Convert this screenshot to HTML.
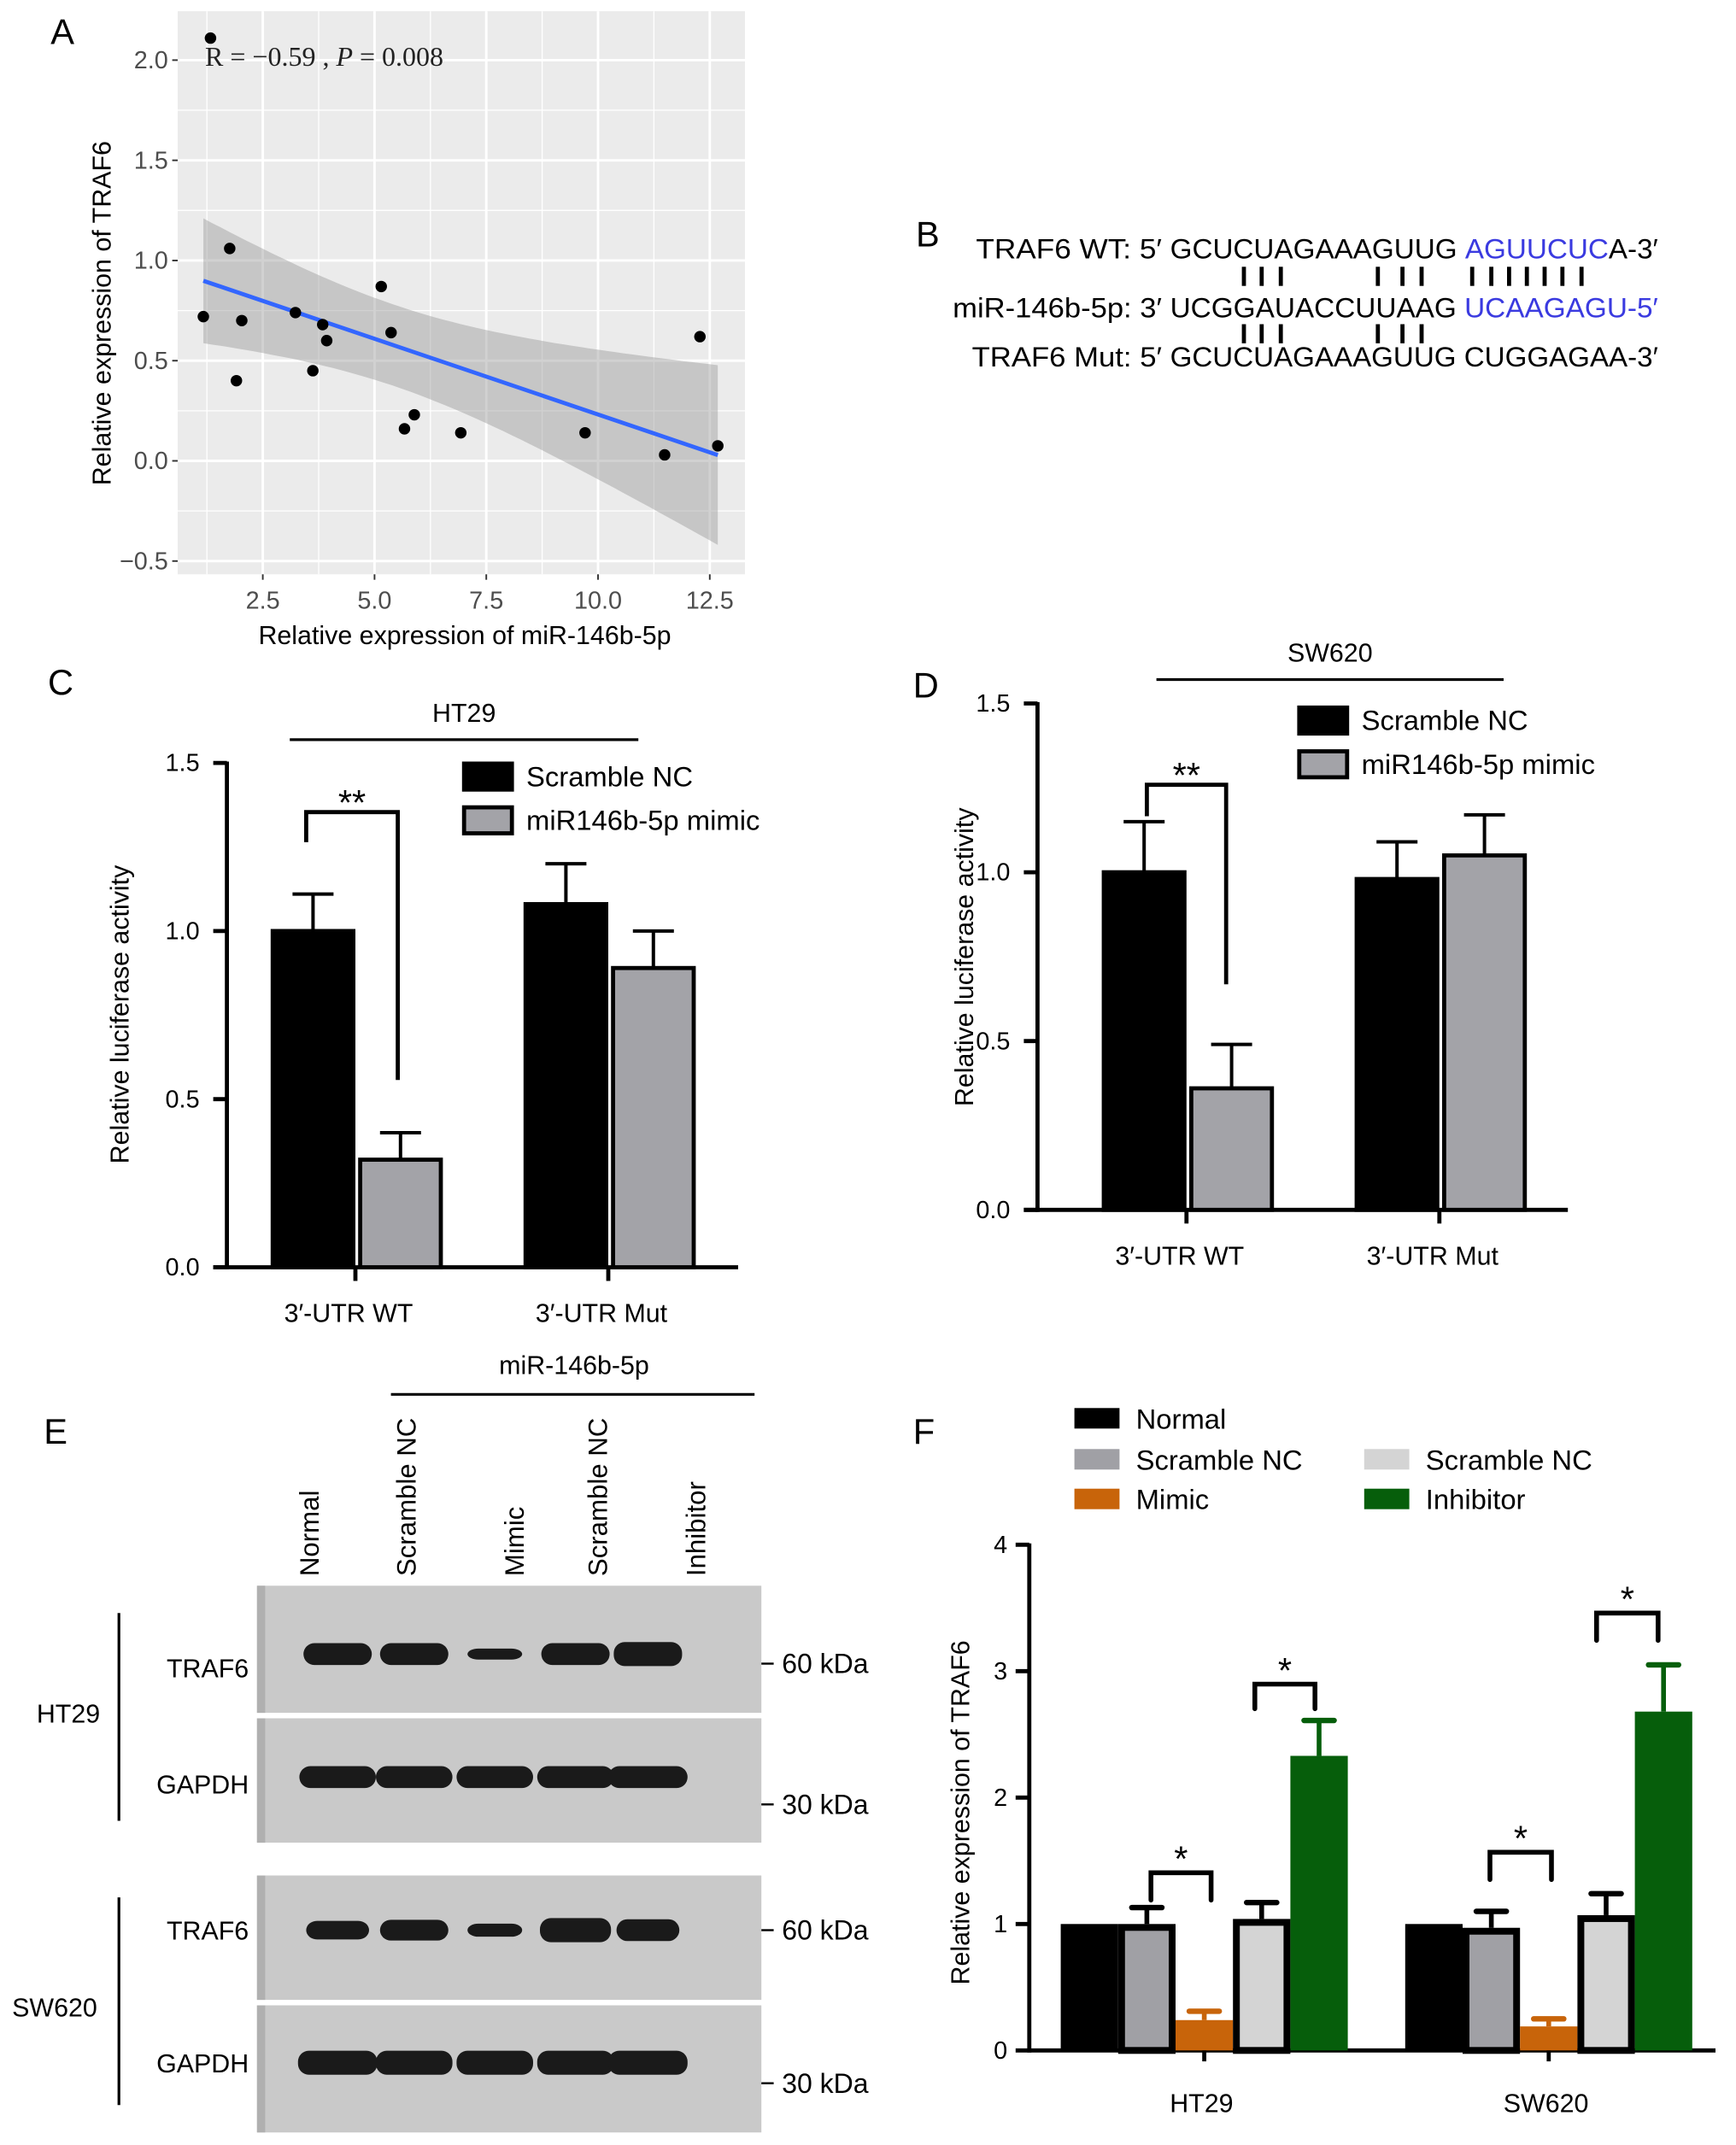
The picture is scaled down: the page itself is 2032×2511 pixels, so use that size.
<!DOCTYPE html>
<html><head><meta charset="utf-8"><style>
html,body{margin:0;padding:0;background:#fff;}
svg{display:block;font-family:"Liberation Sans",Arial,sans-serif;}
</style></head><body>
<svg id="fig" width="2032" height="2511" viewBox="0 0 1270 1569" xmlns="http://www.w3.org/2000/svg">
<g id="pA"></g>
<g id="pB">
 <text x="670" y="180" font-size="26">B</text>
 <g font-size="20">
  <text x="714" y="189" textLength="136" lengthAdjust="spacingAndGlyphs">TRAF6 WT: 5′</text>
  <text x="697" y="232" textLength="153" lengthAdjust="spacingAndGlyphs">miR-146b-5p: 3′</text>
  <text x="711" y="268" textLength="139" lengthAdjust="spacingAndGlyphs">TRAF6 Mut: 5′</text>
  <text x="856" y="189" textLength="357" lengthAdjust="spacingAndGlyphs">GCUCUAGAAAGUUG <tspan fill="#3a3ae0">AGUUCUC</tspan>A-3′</text>
  <text x="856" y="232" textLength="357" lengthAdjust="spacingAndGlyphs">UCGGAUACCUUAAG <tspan fill="#3a3ae0">UCAAGAGU-5′</tspan></text>
  <text x="856" y="268" textLength="357" lengthAdjust="spacingAndGlyphs">GCUCUAGAAAGUUG CUGGAGAA-3′</text>
 </g>
 <g id="pairs" stroke="#000" stroke-width="3"></g>
</g>
<g id="pC"></g>
<g id="pD"></g>
<g id="pE"></g>
<g id="pF"></g>
</svg>
<script>
// Panel A data
const scatterX=[1.33,1.17,1.76,2.03,1.91,3.23,3.62,3.84,3.93,5.15,5.37,5.67,5.89,6.93,9.71,11.49,12.28,12.68];
const scatterY=[2.11,0.72,1.06,0.70,0.40,0.74,0.45,0.68,0.60,0.87,0.64,0.16,0.23,0.14,0.14,0.03,0.62,0.075];
const aXTicks=[2.5,5.0,7.5,10.0,12.5];
const aYTicks=[-0.5,0.0,0.5,1.0,1.5,2.0];
// Panel C data
const cCats=["3′-UTR WT","3′-UTR Mut"];
const cNC=[1.0,1.08], cNCerr=[0.11,0.12];
const cMim=[0.32,0.89], cMimErr=[0.08,0.11];
// Panel D data
const dCats=["3′-UTR WT","3′-UTR Mut"];
const dNC=[1.0,0.98], dNCerr=[0.15,0.11];
const dMim=[0.36,1.05], dMimErr=[0.13,0.12];
const cdTicks=[0.0,0.5,1.0,1.5];
// Panel F data
const fCats=["HT29","SW620"];
const fSeries=["Normal","Scramble NC","Mimic","Scramble NC","Inhibitor"];
const fVals=[[1.0,1.0,0.24,1.04,2.33],[1.0,0.97,0.19,1.07,2.68]];
const fErrs=[[0,0.13,0.07,0.13,0.28],[0,0.13,0.06,0.17,0.37]];
const fTicks=[0,1,2,3,4];

const NS="http://www.w3.org/2000/svg";
function mk(p,tag,at,txt){const e=document.createElementNS(NS,tag);for(const k in at)e.setAttribute(k,at[k]);if(txt!==undefined)e.textContent=txt;p.appendChild(e);return e;}

// ---- B pairs
(function(){const g=document.getElementById('pairs');
[910,923,937,1008,1026,1040,1077,1091,1104,1117,1130,1143,1157].forEach(x=>mk(g,'line',{x1:x,x2:x,y1:195,y2:209}));
[910,923,937,1008,1026,1040].forEach(x=>mk(g,'line',{x1:x,x2:x,y1:237,y2:251}));})();

// ---- A
(function(){const g=document.getElementById('pA');
const L=130,R=545,T=8,B=420;
const sx=v=>110.5+v*32.7, sy=v=>337-v*146.6;
let t=mk(g,'text',{x:37,y:32,'font-size':26},'A');
let bg=mk(g,'rect',{x:L,y:T,width:R-L,height:B-T,fill:'#ebebeb'});
for(let i=0;i<aXTicks.length;i++){const v=aXTicks[i];mk(g,'line',{x1:sx(v),x2:sx(v),y1:T,y2:B,stroke:'#fff','stroke-width':1.8});
 mk(g,'line',{x1:sx(v-1.25),x2:sx(v-1.25),y1:T,y2:B,stroke:'#fff','stroke-width':0.8});}
for(const v of aYTicks){mk(g,'line',{x1:L,x2:R,y1:sy(v),y2:sy(v),stroke:'#fff','stroke-width':1.8});
 mk(g,'line',{x1:L,x2:R,y1:sy(v+0.25),y2:sy(v+0.25),stroke:'#fff','stroke-width':0.8});}
const n=scatterX.length;const mx=scatterX.reduce((a,b)=>a+b)/n,my=scatterY.reduce((a,b)=>a+b)/n;
let sxx=0,sxy=0;for(let i=0;i<n;i++){sxx+=(scatterX[i]-mx)**2;sxy+=(scatterX[i]-mx)*(scatterY[i]-my);}
const b1=sxy/sxx,b0=my-b1*mx;let sse=0;for(let i=0;i<n;i++)sse+=(scatterY[i]-b0-b1*scatterX[i])**2;
const s=Math.sqrt(sse/(n-2));const tq=2.12;
const x0=Math.min(...scatterX),x1=Math.max(...scatterX);
let up=[],lo=[];for(let k=0;k<=60;k++){const x=x0+(x1-x0)*k/60;const h=tq*s*Math.sqrt(1/n+(x-mx)**2/sxx);const yh=b0+b1*x;
 up.push(sx(x).toFixed(1)+','+sy(yh+h).toFixed(1));lo.unshift(sx(x).toFixed(1)+','+sy(yh-h).toFixed(1));}
let band=mk(g,'polygon',{points:up.concat(lo).join(' '),fill:'#999',opacity:0.45});
let ln=mk(g,'line',{x1:sx(x0),y1:sy(b0+b1*x0),x2:sx(x1),y2:sy(b0+b1*x1),stroke:'#3366ff','stroke-width':3});
for(let i=0;i<n;i++){const c=mk(g,'circle',{cx:sx(scatterX[i]),cy:sy(scatterY[i]),r:4.2,fill:'#000'});}
for(const v of aXTicks){mk(g,'line',{x1:sx(v),x2:sx(v),y1:B,y2:B+4,stroke:'#333','stroke-width':1.2});
 const tt=mk(g,'text',{x:sx(v),y:B+25,'font-size':18,'text-anchor':'middle',fill:'#4d4d4d'},v.toFixed(1));}
for(const v of aYTicks){mk(g,'line',{x1:L-4,x2:L,y1:sy(v),y2:sy(v),stroke:'#333','stroke-width':1.2});
 const tt=mk(g,'text',{x:L-7,y:sy(v)+6,'font-size':18,'text-anchor':'end',fill:'#4d4d4d'},(v<0?'−':'')+Math.abs(v).toFixed(1));}
let xt=mk(g,'text',{x:340,y:471,'font-size':19,'text-anchor':'middle'},'Relative expression of miR-146b-5p');
let yt=mk(g,'text',{x:0,y:0,'font-size':19,'text-anchor':'middle',transform:'translate(81,229) rotate(-90)'},'Relative expression of TRAF6');
let an=mk(g,'text',{x:150,y:48,'font-size':20,'font-family':'Liberation Serif,serif',fill:'#222'});an.innerHTML='R = −0.59 , <tspan font-style="italic">P</tspan> = 0.008';
})();

// ---- C/D generic
function barPanel(id,cfg){const g=document.getElementById(id);
const sy=v=>cfg.y0-v*cfg.ppu;
let t=mk(g,'text',{x:cfg.letter[0],y:cfg.letter[1],'font-size':26},cfg.letterTxt);
mk(g,'line',{x1:cfg.ax,x2:cfg.ax,y1:sy(1.5)-1,y2:cfg.y0+1.5,stroke:'#000','stroke-width':3});
mk(g,'line',{x1:cfg.ax-10,x2:cfg.xEnd,y1:cfg.y0,y2:cfg.y0,stroke:'#000','stroke-width':3});
for(const v of cdTicks){mk(g,'line',{x1:cfg.ax-10,x2:cfg.ax,y1:sy(v),y2:sy(v),stroke:'#000','stroke-width':3});
 const tt=mk(g,'text',{x:cfg.ax-20,y:sy(v)+6,'font-size':18,'text-anchor':'end'},v.toFixed(1));}
for(let i=0;i<cfg.cats.length;i++){const gx=cfg.groupX[i];
 const bars=[[cfg.nc[i],cfg.ncErr[i],'#000',gx-cfg.bw],[cfg.mim[i],cfg.mimErr[i],'#a3a3a8',gx+2]];
 for(const [v,e,col,x] of bars){const cx=x+cfg.bw/2;
  mk(g,'line',{x1:cx,x2:cx,y1:sy(v),y2:sy(v+e),stroke:'#000','stroke-width':2.5});
  mk(g,'line',{x1:cx-15,x2:cx+15,y1:sy(v+e),y2:sy(v+e),stroke:'#000','stroke-width':2.5});
  const r=mk(g,'rect',{x:x+1.5,y:sy(v),width:cfg.bw-3,height:v*cfg.ppu,fill:col,stroke:'#000','stroke-width':3});}
 mk(g,'line',{x1:gx,x2:gx,y1:cfg.y0,y2:cfg.y0+10,stroke:'#000','stroke-width':3});
 const tt=mk(g,'text',{x:gx-5,y:cfg.y0+40,'font-size':19,'text-anchor':'middle'},cfg.cats[i]);}
mk(g,'line',{x1:cfg.top[0],x2:cfg.top[1],y1:cfg.top[2],y2:cfg.top[2],stroke:'#000','stroke-width':2});
let ct=mk(g,'text',{x:(cfg.top[0]+cfg.top[1])/2,y:cfg.top[2]-13,'font-size':19,'text-anchor':'middle'},cfg.cell);
const b=cfg.br;mk(g,'polyline',{points:`${b[0]},${b[3]} ${b[0]},${b[2]} ${b[1]},${b[2]} ${b[1]},${b[4]}`,fill:'none',stroke:'#000','stroke-width':3});
let st=mk(g,'text',{x:(b[0]+b[1])/2,y:b[2]+2,'font-size':26,'text-anchor':'middle'},'**');
const lg=cfg.leg;[['Scramble NC','#000'],['miR146b-5p mimic','#a3a3a8']].forEach((d,k)=>{
 const r=mk(g,'rect',{x:lg[0]+1.5,y:lg[1]+k*32+1.5,width:35,height:19,fill:d[1],stroke:'#000','stroke-width':3});
 const tt=mk(g,'text',{x:lg[0]+47,y:lg[1]+k*32+18,'font-size':20.5},d[0]);});
let yt=mk(g,'text',{x:0,y:0,'font-size':19,'text-anchor':'middle',transform:`translate(${cfg.yt[0]},${cfg.yt[1]}) rotate(-90)`},'Relative luciferase activity');
}
barPanel('pC',{letterTxt:'C',letter:[35,508],y0:927,ppu:246,ax:166,xEnd:540,cats:cCats,nc:cNC,ncErr:cNCerr,mim:cMim,mimErr:cMimErr,groupX:[260,445],bw:62,top:[212,467,541],cell:'HT29',br:[224,291,594,616,790],leg:[338,557],yt:[94,742]});
barPanel('pD',{letterTxt:'D',letter:[668,510],y0:885,ppu:247,ax:759,xEnd:1147,cats:dCats,nc:dNC,ncErr:dNCerr,mim:dMim,mimErr:dMimErr,groupX:[868,1053],bw:62,top:[846,1100,497],cell:'SW620',br:[839,897,574,597,720],leg:[949,516],yt:[712,700]});

// ---- E western blot
(function(){const g=document.getElementById('pE');
let t=mk(g,'text',{x:32,y:1056,'font-size':26},'E');
const lanes=['Normal','Scramble NC','Mimic','Scramble NC','Inhibitor'];const labX=[233,304,383,444,516];const lx=[247,303,362,421,474];
lanes.forEach((s,i)=>{const tt=mk(g,'text',{x:0,y:0,'font-size':19.5,transform:`translate(${labX[i]},1153) rotate(-90)`},s);});
mk(g,'line',{x1:286,x2:552,y1:1020,y2:1020,stroke:'#000','stroke-width':2});
let m=mk(g,'text',{x:420,y:1005,'font-size':19,'text-anchor':'middle'},'miR-146b-5p');
// [top, bottom, name, band intensity, kDa, widths, band-center-y, label-baseline, kda-y]
const blots=[[1160,1253,'TRAF6',[1,1,0.5,1,1.1],'60 kDa',[50,50,40,50,50],1210,1227,1217],
 [1257,1348,'GAPDH',[1,1,1,1,1],'30 kDa',[56,56,56,56,58],1300,1312,1320],
 [1372,1463,'TRAF6',[0.85,0.95,0.6,1.1,1],'60 kDa',[46,50,40,52,46],1412,1419,1412],
 [1467,1560,'GAPDH',[1.1,1.1,1.1,1.1,1.1],'30 kDa',[58,56,56,56,58],1509,1516,1524]];
blots.forEach((b,k)=>{const r=mk(g,'rect',{x:188,y:b[0],width:369,height:b[1]-b[0],fill:'#c9c9c9'});
 mk(g,'rect',{x:188,y:b[0],width:6,height:b[1]-b[0],fill:'#b0b0b0'});
 const cy=b[6];
 lx.forEach((x,i)=>{const h=16*b[3][i];const w=b[5][i];const e=mk(g,'rect',{x:x-w/2,y:cy-h/2,width:w,height:h,rx:8,fill:'#1a1a1a'});});
 const lab=mk(g,'text',{x:182,y:b[7],'font-size':19,'text-anchor':'end'},b[2]);
 const ky=b[8];
 mk(g,'line',{x1:557,x2:566,y1:ky,y2:ky,stroke:'#000','stroke-width':1.5});
 const kd=mk(g,'text',{x:572,y:ky+7,'font-size':20},b[4]);});
mk(g,'line',{x1:87,x2:87,y1:1180,y2:1332,stroke:'#000','stroke-width':2});
mk(g,'line',{x1:87,x2:87,y1:1388,y2:1540,stroke:'#000','stroke-width':2});
let h1=mk(g,'text',{x:50,y:1260,'font-size':19,'text-anchor':'middle'},'HT29');
let h2=mk(g,'text',{x:40,y:1475,'font-size':19,'text-anchor':'middle'},'SW620');
})();

// ---- F
(function(){const g=document.getElementById('pF');
const y0=1500,ppu=92.5,ax=753;const sy=v=>y0-v*ppu;
let t=mk(g,'text',{x:668,y:1056,'font-size':26},'F');
mk(g,'line',{x1:ax,x2:ax,y1:sy(4)-1,y2:y0+1.5,stroke:'#000','stroke-width':3});
mk(g,'line',{x1:ax,x2:1255,y1:y0,y2:y0,stroke:'#000','stroke-width':3});
for(const v of fTicks){mk(g,'line',{x1:ax-10,x2:ax,y1:sy(v),y2:sy(v),stroke:'#000','stroke-width':3});
 const tt=mk(g,'text',{x:ax-16,y:sy(v)+6,'font-size':18,'text-anchor':'end'},String(v));}
const cols=['#000','#a0a0a5','#c8640a','#d4d4d4','#065e0b'];
const gStart=[776,1028],bw=42;
for(let c=0;c<fCats.length;c++){for(let i=0;i<5;i++){const x=gStart[c]+i*42;const v=fVals[c][i],e=fErrs[c][i];const cx=x+bw/2;
 const ec=i==2?cols[2]:(i==4?cols[4]:'#000');
 if(e>0){mk(g,'line',{x1:cx,x2:cx,y1:sy(v),y2:sy(v+e),stroke:ec,'stroke-width':3.5});
  mk(g,'line',{x1:cx-11,x2:cx+11,y1:sy(v+e),y2:sy(v+e),stroke:ec,'stroke-width':4,'stroke-linecap':'round'});}
 const bord=(i==1||i==3);
 const r=mk(g,'rect',{x:bord?x+2.5:x,y:sy(v)+(bord?2.5:0),width:bord?bw-5:bw,height:v*ppu-(bord?2.5:0),fill:cols[i],stroke:bord?'#000':'none','stroke-width':5});}
 const cx=gStart[c]+105;const tt=mk(g,'text',{x:cx-2,y:1545,'font-size':19,'text-anchor':'middle'},fCats[c]);
 mk(g,'line',{x1:cx,x2:cx,y1:y0,y2:y0+8,stroke:'#000','stroke-width':3});}
[[842,886,1370,1390],[918,962,1232,1250],[1090,1135,1355,1375],[1168,1213,1180,1200]].forEach(b=>{
 mk(g,'polyline',{points:`${b[0]},${b[3]} ${b[0]},${b[2]} ${b[1]},${b[2]} ${b[1]},${b[3]}`,fill:'none',stroke:'#000','stroke-width':3.5,'stroke-linecap':'round'});
 const st=mk(g,'text',{x:(b[0]+b[1])/2,y:b[2]-1,'font-size':26,'text-anchor':'middle'},'*');});
const leg=[[786,1030,0],[786,1060,1],[786,1089,2],[998,1060,3],[998,1089,4]];
leg.forEach(l=>{const r=mk(g,'rect',{x:l[0],y:l[1],width:33,height:15,fill:cols[l[2]]});
 const tt=mk(g,'text',{x:l[0]+45,y:l[1]+15,'font-size':20.5},fSeries[l[2]]);});
let yt=mk(g,'text',{x:0,y:0,'font-size':19,'text-anchor':'middle',transform:'translate(709,1326) rotate(-90)'},'Relative expression of TRAF6');
})();
</script>
</body></html>
